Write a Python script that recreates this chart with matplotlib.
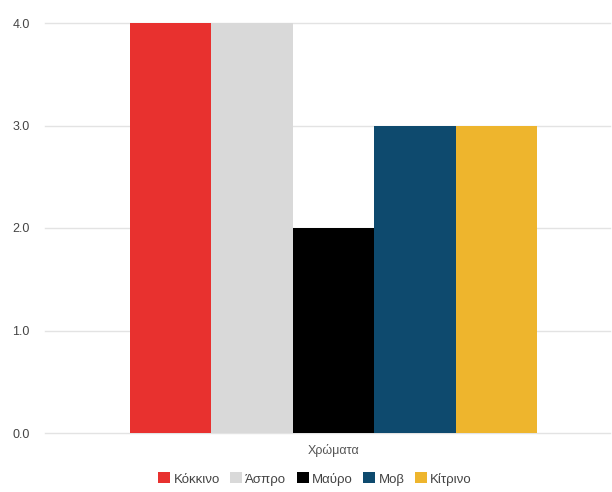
import matplotlib
matplotlib.use("Agg")
import matplotlib.pyplot as plt
from matplotlib.patches import Patch

category = "Χρώματα"
series_names = ["Κόκκινο", "Άσπρο", "Μαύρο", "Μοβ", "Κίτρινο"]
series_values = [4, 4, 2, 3, 3]
series_colors = ["#e8312f", "#d9d9d9", "#000000", "#0e4a6e", "#eeb52d"]
yticks = [0, 1, 2, 3, 4]

plt.rcParams["font.family"] = ["Liberation Sans", "DejaVu Sans"]
fig = plt.figure(figsize=(6.12, 4.92), dpi=100)
ax = fig.add_axes([45 / 612, 1 - 433 / 492, 565 / 612, 410 / 492])

n = len(series_values)
for i, (name, v, c) in enumerate(zip(series_names, series_values, series_colors)):
    ax.bar(i - (n - 1) / 2, v, width=1.0, color=c, label=name, zorder=3)

ax.set_ylim(0, 4)
ax.set_xlim(-2.5 - 85 / 81.4, 2.5 + 73 / 81.4)
ax.set_yticks(yticks)
ax.set_yticklabels([f"{t:.1f}" for t in yticks])
ax.set_xticks([0])
ax.set_xticklabels([category])
ax.tick_params(axis="y", length=0, pad=11, labelsize=9, labelcolor="#444444")
ax.tick_params(axis="x", length=0, pad=8, labelsize=9, labelcolor="#555555")
for s in ax.spines.values():
    s.set_visible(False)
ax.yaxis.grid(True, color="#e3e3e3", linewidth=1, zorder=0)
for gl in ax.get_ygridlines():
    gl.set_clip_on(False)
ax.set_axisbelow(True)

handles = [Patch(facecolor=c, edgecolor="none", label=nm) for nm, c in zip(series_names, series_colors)]
fig.legend(handles=handles, loc="center", bbox_to_anchor=(315 / 612, 1 - 479 / 492), ncol=n,
           frameon=False, fontsize=9.5, handlelength=0.9, handleheight=0.9, handletextpad=0.25,
           columnspacing=0.8, labelcolor="#444444")

fig.savefig("out.png", dpi=100)
